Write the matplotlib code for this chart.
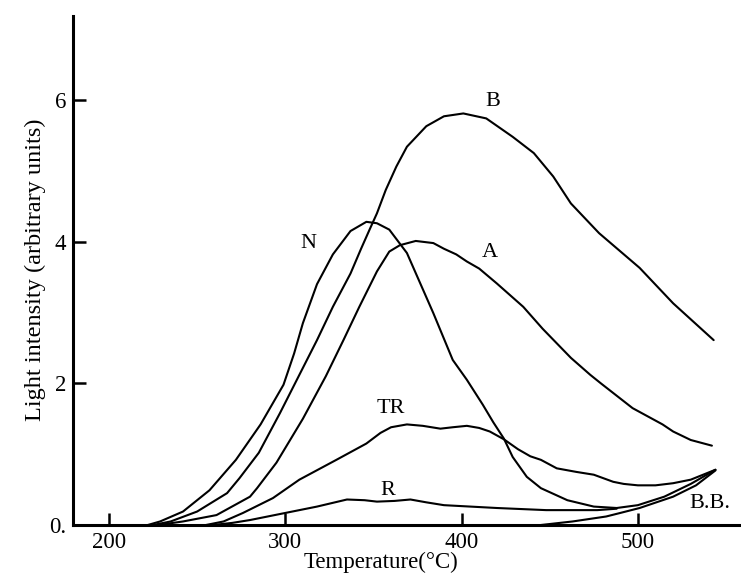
import matplotlib
matplotlib.use("Agg")
import matplotlib.pyplot as plt

# ---- data ----
N_T = [222, 229, 242, 257, 272, 286, 299, 305, 310, 318, 327, 337, 346, 352, 359, 369, 375, 384, 395, 403, 412, 418, 424, 429, 437, 445, 460, 475, 488, 500, 515, 530, 544]
N_I = [0, 0.05, 0.19, 0.49, 0.92, 1.42, 1.98, 2.42, 2.85, 3.40, 3.82, 4.15, 4.28, 4.26, 4.17, 3.84, 3.50, 2.99, 2.33, 2.05, 1.70, 1.45, 1.22, 0.96, 0.68, 0.52, 0.35, 0.26, 0.24, 0.28, 0.40, 0.58, 0.78]

B_T = [225, 235, 250, 267, 274, 285, 297, 308, 318, 327, 337, 343, 348, 352, 357, 363, 369, 380, 390, 401, 414, 429, 441, 452, 462, 478, 501, 520, 543]
B_I = [0, 0.05, 0.19, 0.45, 0.66, 1.02, 1.58, 2.12, 2.61, 3.08, 3.55, 3.90, 4.18, 4.40, 4.73, 5.06, 5.34, 5.63, 5.77, 5.81, 5.74, 5.48, 5.25, 4.92, 4.54, 4.12, 3.63, 3.13, 2.61]

A_T = [228, 242, 261, 280, 284, 295, 310, 323, 333, 342, 352, 359, 365, 374, 384, 390, 397, 403, 410, 420, 435, 446, 462, 473, 479, 497, 514, 520, 530, 542]
A_I = [0, 0.05, 0.14, 0.40, 0.52, 0.88, 1.5, 2.1, 2.61, 3.08, 3.58, 3.86, 3.95, 4.01, 3.98, 3.90, 3.82, 3.72, 3.62, 3.41, 3.08, 2.77, 2.36, 2.12, 2.0, 1.65, 1.42, 1.32, 1.20, 1.12]

TR_T = [255, 265, 276, 293, 308, 329, 346, 354, 360, 369, 378, 388, 395, 403, 410, 416, 424, 432, 439, 445, 454, 465, 475, 486, 492, 500, 510, 520, 530, 544]
TR_I = [0, 0.05, 0.17, 0.38, 0.64, 0.92, 1.15, 1.30, 1.38, 1.42, 1.40, 1.36, 1.38, 1.40, 1.37, 1.32, 1.21, 1.07, 0.97, 0.92, 0.80, 0.75, 0.71, 0.61, 0.58, 0.56, 0.56, 0.59, 0.64, 0.78]

R_T = [259, 270, 280, 290, 300, 318, 335, 345, 352, 362, 371, 380, 390, 405, 420, 448, 477, 488]
R_I = [0, 0.03, 0.07, 0.12, 0.17, 0.26, 0.36, 0.35, 0.33, 0.34, 0.36, 0.32, 0.28, 0.26, 0.24, 0.21, 0.21, 0.23]

BB_T = [445, 463, 482, 490, 501, 520, 533, 544]
BB_I = [0, 0.05, 0.12, 0.17, 0.24, 0.40, 0.56, 0.77]

labels = ["B", "N", "A", "TR", "R", "B.B."]
label_T = [418, 313, 416, 360, 358, 541]
label_I = [5.98, 3.98, 3.84, 1.65, 0.49, 0.31]

x_ticks = [200, 300, 400, 500]
y_ticks = [0, 2, 4, 6]
y_tick_labels = ["0.", "2", "4", "6"]

# ---- figure ----
plt.rcParams['font.family'] = ['Liberation Serif', 'DejaVu Serif']
fig = plt.figure(figsize=(7.41, 5.79), dpi=100)
ax = fig.add_axes([73/741, 1-525/579, 1-73/741, (525-15.7)/579])

for T, I in [(N_T, N_I), (B_T, B_I), (A_T, A_I), (TR_T, TR_I), (R_T, R_I), (BB_T, BB_I)]:
    ax.plot(T, I, color='black', lw=1.5, solid_capstyle='round', solid_joinstyle='round')

for lab, t, i in zip(labels, label_T, label_I):
    ax.text(t, i, lab, ha='center', va='center', fontsize=16)

ax.set_xlim(179.6, 558.5)
ax.set_ylim(0, 7.19)
for s in ['top', 'right']:
    ax.spines[s].set_visible(False)
for s in ['left', 'bottom']:
    ax.spines[s].set_linewidth(2.2)
ax.set_xticks(x_ticks)
ax.set_yticks(y_ticks)
ax.set_yticklabels(y_tick_labels)
ax.tick_params(direction='in', length=9, width=1.8, labelsize=16.5, pad=5)

ax.set_xlabel("Temperature(°C)", fontsize=16.5)
ax.xaxis.set_label_coords((381-73)/668, -0.052)
ax.xaxis.label.set_va('top')
fig.text(35/741, 1-270/579, "Light intensity (arbitrary units)", rotation=90,
         ha='center', va='center', fontsize=17.5)

fig.savefig("out.png", dpi=100)
